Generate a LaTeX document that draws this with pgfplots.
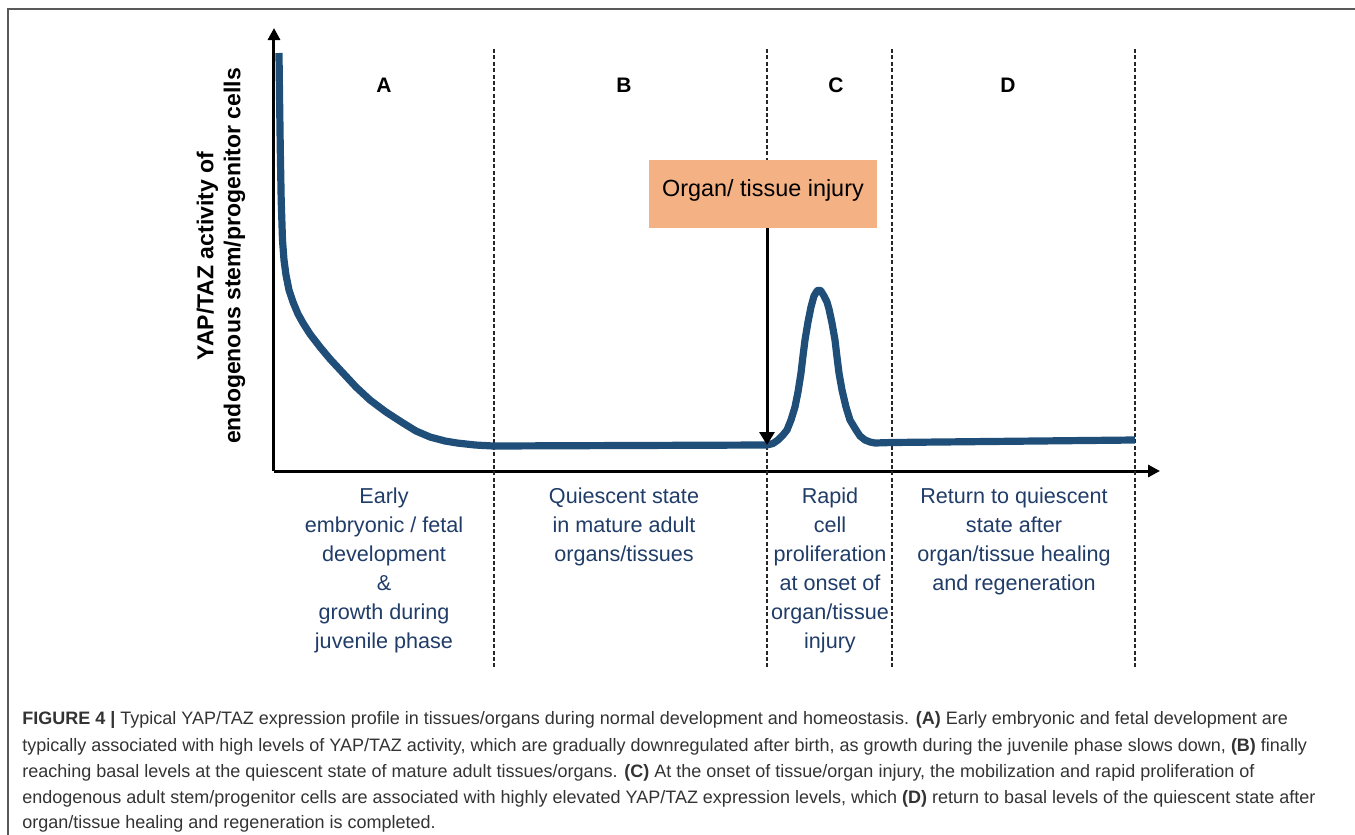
\documentclass[border=0pt]{standalone}
\usepackage{fontspec}
\setmainfont{Liberation Sans}
\usepackage{pgfplots}
\pgfplotsset{compat=1.18}
\usetikzlibrary{arrows.meta}
\definecolor{curveblue}{HTML}{1F4E79}
\definecolor{txtblue}{HTML}{203C68}
\definecolor{boxfill}{HTML}{F4B183}
\definecolor{capgray}{HTML}{333333}
\begin{document}
\begin{tikzpicture}
\begin{axis}[
  scale only axis, width=443pt, height=221.5pt,
  xmin=274, xmax=1160, ymin=364, ymax=807,
  axis lines=left, xtick=\empty, ytick=\empty,
  axis line style={line width=1.5pt, -{Triangle[length=6pt,width=6pt]}},
  clip=false,
]
\coordinate (ll) at (axis cs:0,0);
\coordinate (ur) at (axis cs:1355,835);
% frame
\draw[line width=1pt, black!65] (axis cs:8,0) -- (axis cs:8,826) -- (axis cs:1355,826);
% dashed separators
\tikzset{sep/.style={line width=0.8pt, dash pattern=on 2pt off 1.2pt, black!85}}
\draw[sep] (axis cs:494,786) -- (axis cs:494,167);
\draw[sep] (axis cs:767,786) -- (axis cs:767,167);
\draw[sep] (axis cs:892,786) -- (axis cs:892,167);
\draw[sep] (axis cs:1135,786) -- (axis cs:1135,167);
% curve
\addplot[curveblue, line width=3.6pt, line join=round, line cap=butt] coordinates {
(279,782) (279.6,735) (280.3,685) (281.2,635) (282.5,595) (284,575) (286,560) (289,545) (293,533) (298,521) (303,512) (310,501) (320,488) (330,476) (343,462) (356,448) (370,435) (386,423) (403,412) (416,404) (430,398) (445,394) (457,392) (475,390) (493,389) (630,389.5) (767,390)
(773,391.5) (778,395) (783,400) (787,405) (791,415) (795,428) (798,443) (801,462) (803,479) (805,495) (808,513) (811,528) (814,539) (817,544) (819,545) (821,544) (824,539) (827,533) (829,526) (832,512) (835,495) (837,478) (839,462) (842,445) (846,428) (850,415) (856,405) (860,399) (865,395) (870,393) (875,392) (892,392.5) (1135,395)
};
% phase letters
\tikzset{phl/.style={font=\bfseries\fontsize{10.5}{12}\selectfont, inner sep=0pt}}
\node[phl] at (axis cs:384,750) {A};
\node[phl] at (axis cs:624,750) {B};
\node[phl] at (axis cs:836,750) {C};
\node[phl] at (axis cs:1008,750) {D};
% injury box and arrow
\fill[boxfill] (axis cs:649,675) rectangle (axis cs:877,607);
\node[font=\fontsize{11.7}{14}\selectfont, inner sep=0pt] at (axis cs:763,645) {Organ/ tissue injury};
\draw[line width=1.5pt, -{Triangle[length=6.5pt,width=7.5pt]}] (axis cs:767,607) -- (axis cs:767,390);
% y label
\node[rotate=90, align=center, inner sep=0pt, font=\bfseries\fontsize{11.5}{13.5}\selectfont] at (axis cs:221,579) {YAP/TAZ activity of\\endogenous stem/progenitor cells};
% phase descriptions
\tikzset{desc/.style={anchor=north, align=center, inner sep=0pt, text=txtblue, font=\fontsize{10.8}{14.5}\selectfont}}
\node[desc] at (axis cs:384,348) {Early\\embryonic / fetal\\development\\\&\\growth during\\juvenile phase};
\node[desc] at (axis cs:624,348) {Quiescent state\\in mature adult\\organs/tissues};
\node[desc] at (axis cs:830,348) {Rapid\\cell\\proliferation\\at onset of\\organ/tissue\\injury};
\node[desc] at (axis cs:1014,348) {Return to quiescent\\state after\\organ/tissue healing\\and regeneration};
% caption
\tikzset{capt/.style={anchor=base west, inner sep=0pt, text=capgray, font=\fontsize{9}{13}\selectfont}}
\node[capt] at (axis cs:22,111) {\textbf{FIGURE 4 |} Typical YAP/TAZ expression profile in tissues/organs during normal development and homeostasis. \textbf{(A)} Early embryonic and fetal development are};
\node[capt] at (axis cs:22,84) {typically associated with high levels of YAP/TAZ activity, which are gradually downregulated after birth, as growth during the juvenile phase slows down, \textbf{(B)} finally};
\node[capt] at (axis cs:22,58) {reaching basal levels at the quiescent state of mature adult tissues/organs. \textbf{(C)} At the onset of tissue/organ injury, the mobilization and rapid proliferation of};
\node[capt] at (axis cs:22,32) {endogenous adult stem/progenitor cells are associated with highly elevated YAP/TAZ expression levels, which \textbf{(D)} return to basal levels of the quiescent state after};
\node[capt] at (axis cs:22,7) {organ/tissue healing and regeneration is completed.};
\end{axis}
\pgfresetboundingbox
\useasboundingbox (ll) rectangle (ur);
\end{tikzpicture}
\end{document}
